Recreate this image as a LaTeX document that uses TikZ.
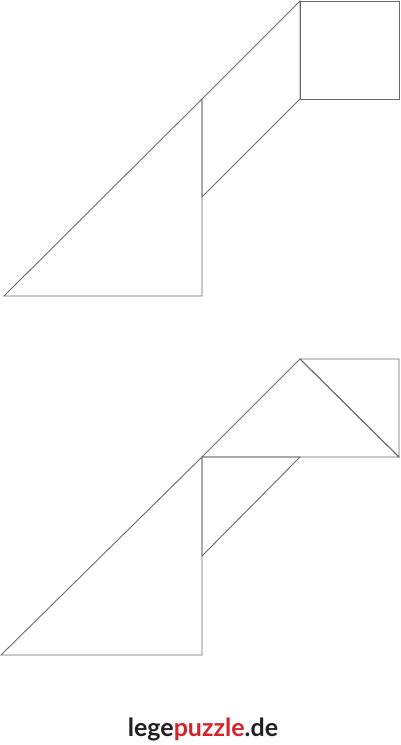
\documentclass[tikz,border=0pt]{standalone}
\usepackage{fontspec}
\setmainfont{Lato}
\definecolor{edge}{HTML}{6A6A6A}
\definecolor{logored}{HTML}{D2232A}
\definecolor{logodark}{HTML}{231F20}
\begin{document}
\begin{tikzpicture}[x=1pt,y=-1pt,
  piece/.style={draw=edge,line width=0.9pt,line join=miter}]
\useasboundingbox (0,0) rectangle (400,745);
% top figure
\coordinate (a1) at (4,296);
\coordinate (a2) at (202,296);
\coordinate (a3) at (202,99);
\coordinate (a4) at (300,1);
\coordinate (a5) at (399,1);
\coordinate (a6) at (399,99);
\coordinate (a7) at (300,99);
\coordinate (a8) at (202,197);
\draw[piece] (a1) -- (a2) -- (a3) -- cycle;
\draw[piece] (a3) -- (a4) -- (a7) -- (a8) -- cycle;
\draw[piece] (a4) -- (a5) -- (a6) -- (a7) -- cycle;
% bottom figure
\coordinate (b1) at (1,655);
\coordinate (b2) at (202,655);
\coordinate (b3) at (202,457);
\coordinate (b4) at (300,359);
\coordinate (b5) at (399,359);
\coordinate (b6) at (399,457);
\coordinate (b7) at (300,457);
\coordinate (b8) at (202,556);
\draw[piece] (b1) -- (b2) -- (b3) -- cycle;
\draw[piece] (b3) -- (b4) -- (b6) -- cycle;
\draw[piece] (b4) -- (b5) -- (b6) -- cycle;
\draw[piece] (b3) -- (b7) -- (b8) -- cycle;
% logo
\node[font=\fontsize{25}{27}\selectfont\bfseries, inner sep=0pt, anchor=base] (logo) at (203,736)
  {\textcolor{logodark}{lege}\textcolor{logored}{puzzle}\textcolor{logodark}{.de}};
\end{tikzpicture}
\end{document}
